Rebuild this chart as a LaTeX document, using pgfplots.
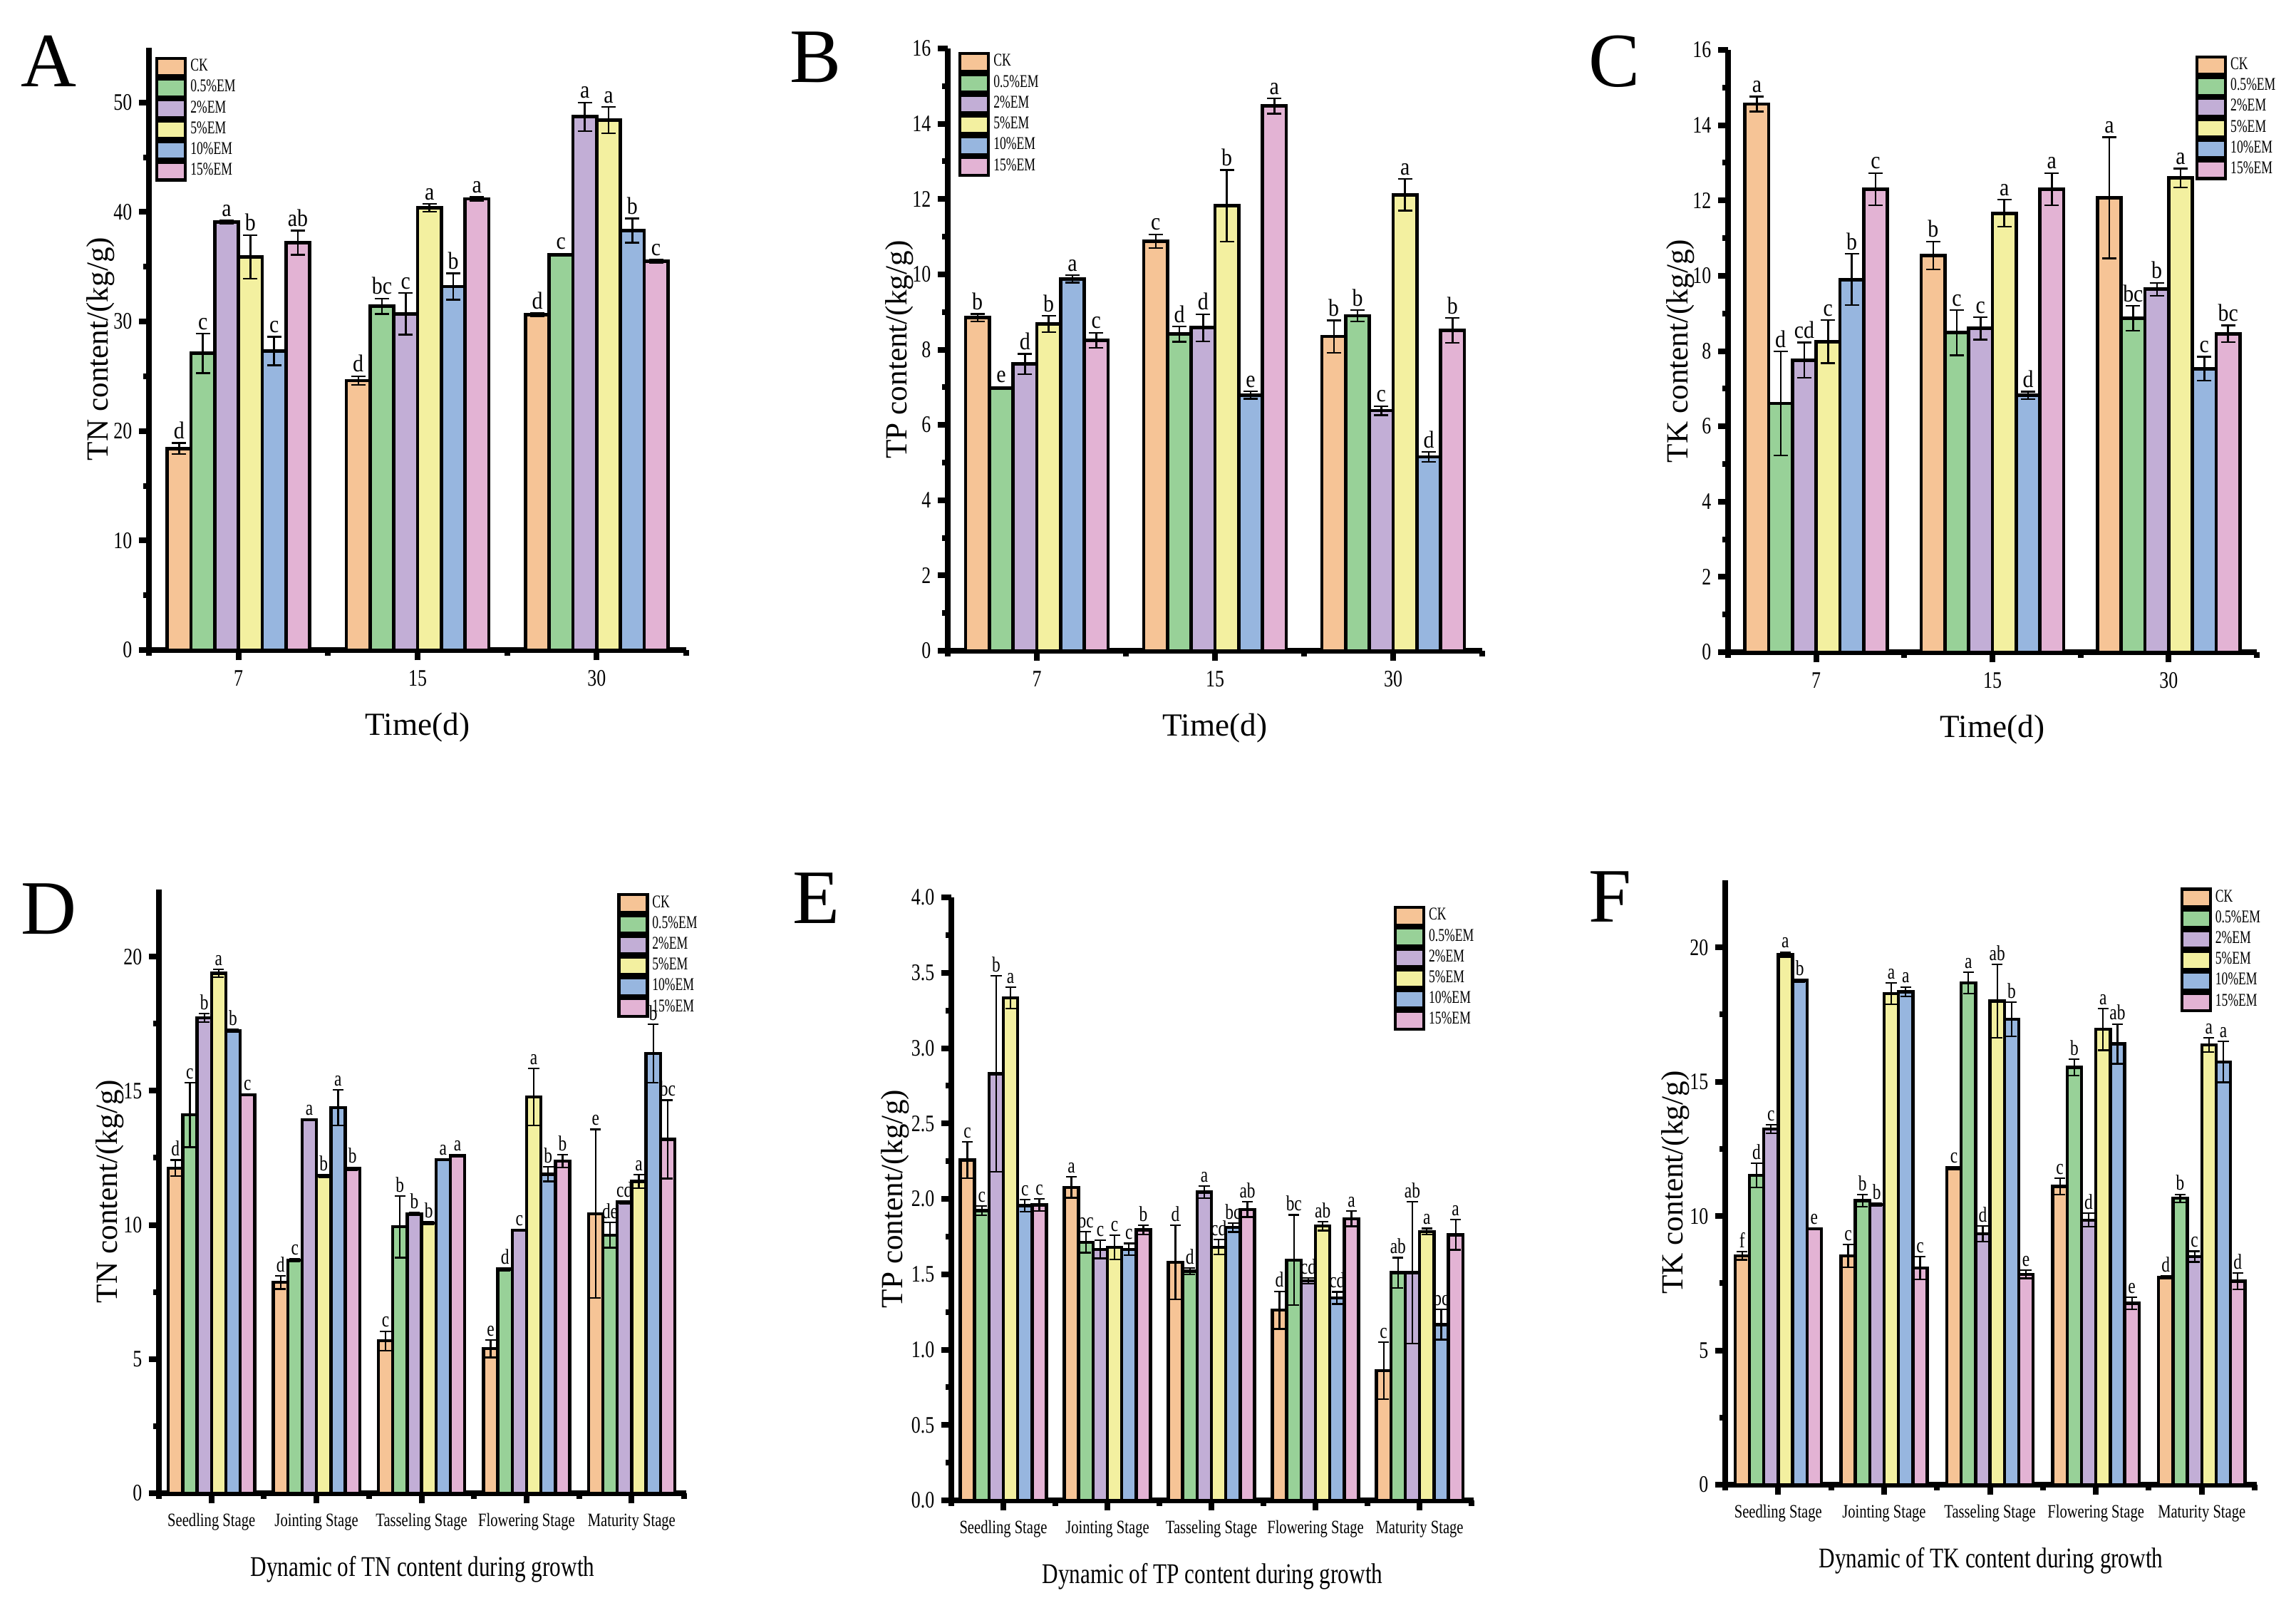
\documentclass[border=0pt]{standalone}
\usepackage{fontspec}
\usepackage{pgfplots}
\usepackage{pgfplotstable}
\pgfplotsset{compat=1.18}
\setmainfont{Liberation Serif}
\newfontfamily\cnd[FakeStretch=0.78]{Liberation Serif}
\newfontfamily\cndb[FakeStretch=0.88]{Liberation Serif}
\newfontfamily\cndl[FakeStretch=0.7]{Liberation Serif}

\definecolor{c0}{HTML}{F6C496}
\definecolor{c1}{HTML}{98D198}
\definecolor{c2}{HTML}{C2AED6}
\definecolor{c3}{HTML}{F3F0A0}
\definecolor{c4}{HTML}{97B6DF}
\definecolor{c5}{HTML}{E3B3D4}

% x, then for each treatment: value, error, letter
\pgfplotstableread{
x y0 e0 l0 y1 e1 l1 y2 e2 l2 y3 e3 l3 y4 e4 l4 y5 e5 l5
0 18.4 0.5 d 27.1 1.8 c 39.1 0.15 a 35.9 2.0 b 27.3 1.3 c 37.2 1.1 ab
1 24.6 0.4 d 31.4 0.7 bc 30.7 1.9 c 40.4 0.35 a 33.2 1.2 b 41.2 0.2 a
2 30.6 0.15 d 36.1 0.1 c 48.7 1.3 a 48.4 1.2 a 38.3 1.1 b 35.5 0.15 c
}\tabA
\pgfplotstableread{
x y0 e0 l0 y1 e1 l1 y2 e2 l2 y3 e3 l3 y4 e4 l4 y5 e5 l5
0 8.85 0.1 b 6.98 0.03 e 7.62 0.27 d 8.68 0.22 b 9.88 0.1 a 8.25 0.2 c
1 10.88 0.18 c 8.41 0.2 d 8.58 0.36 d 11.82 0.95 b 6.79 0.1 e 14.47 0.2 a
2 8.35 0.43 b 8.9 0.15 b 6.38 0.12 c 12.11 0.42 a 5.15 0.13 d 8.51 0.33 b
}\tabB
\pgfplotstableread{
x y0 e0 l0 y1 e1 l1 y2 e2 l2 y3 e3 l3 y4 e4 l4 y5 e5 l5
0 14.56 0.2 a 6.61 1.38 d 7.76 0.47 cd 8.25 0.57 c 9.9 0.68 b 12.3 0.43 c
1 10.54 0.37 b 8.49 0.6 c 8.6 0.3 c 11.66 0.36 a 6.82 0.1 d 12.3 0.43 a
2 12.07 1.61 a 8.87 0.33 bc 9.64 0.17 b 12.6 0.25 a 7.53 0.32 c 8.46 0.22 bc
}\tabC
\pgfplotstableread{
x y0 e0 l0 y1 e1 l1 y2 e2 l2 y3 e3 l3 y4 e4 l4 y5 e5 l5
0 12.12 0.3 d 14.1 1.2 c 17.72 0.15 b 19.38 0.15 a 17.24 0.05 b 14.85 0.03 c
1 7.86 0.25 d 8.68 0.05 c 13.92 0.03 a 11.83 0.05 b 14.37 0.66 a 12.1 0.05 b
2 5.68 0.36 c 9.93 1.15 b 10.42 0.05 b 10.07 0.05 b 12.43 0.03 a 12.58 0.03 a
3 5.39 0.33 e 8.35 0.05 d 9.8 0.03 c 14.77 1.07 a 11.89 0.27 b 12.38 0.23 b
4 10.42 3.14 e 9.62 0.47 de 10.85 0.05 cd 11.62 0.25 a 16.39 1.09 b 13.19 1.46 bc
}\tabD
\pgfplotstableread{
x y0 e0 l0 y1 e1 l1 y2 e2 l2 y3 e3 l3 y4 e4 l4 y5 e5 l5
0 2.258 0.12 c 1.923 0.03 c 2.83 0.65 b 3.333 0.07 a 1.955 0.04 c 1.96 0.04 c
1 2.077 0.07 a 1.713 0.07 bc 1.665 0.06 c 1.68 0.08 c 1.665 0.04 c 1.794 0.03 b
2 1.58 0.245 d 1.52 0.02 d 2.045 0.04 a 1.68 0.05 cd 1.81 0.03 bc 1.93 0.05 ab
3 1.262 0.125 d 1.594 0.3 bc 1.456 0.02 cd 1.82 0.03 ab 1.343 0.04 cd 1.868 0.05 a
4 0.86 0.19 c 1.51 0.1 ab 1.51 0.47 ab 1.784 0.02 a 1.166 0.1 bc 1.762 0.1 a
}\tabE
\pgfplotstableread{
x y0 e0 l0 y1 e1 l1 y2 e2 l2 y3 e3 l3 y4 e4 l4 y5 e5 l5
0 8.52 0.15 f 11.51 0.45 d 13.24 0.15 c 19.73 0.1 a 18.77 0.05 b 9.52 0.03 e
1 8.52 0.42 c 10.57 0.22 b 10.43 0.05 b 18.28 0.4 a 18.35 0.18 a 8.07 0.42 c
2 11.79 0.05 c 18.68 0.4 a 9.34 0.3 d 18.0 1.36 ab 17.33 0.63 b 7.83 0.15 e
3 11.1 0.3 c 15.54 0.3 b 9.85 0.25 d 16.95 0.78 a 16.41 0.74 ab 6.75 0.22 e
4 7.71 0.05 d 10.66 0.15 b 8.49 0.2 c 16.37 0.27 a 15.74 0.76 a 7.58 0.3 d
}\tabF

\newcommand\tickfont{\cnd\fontsize{8.3}{9}\selectfont}
\newcommand\stagefont{\cnd\fontsize{6.6}{7}\selectfont}
\newcommand\legfont{\cndl\fontsize{6.3}{7}\selectfont}

\pgfplotsset{
  ppu/.initial=1pt,
  panel/.style={
    scale only axis, axis lines=left, axis line style={line width=2pt, -},
    ymin=0, xmin=-0.5, clip=false,
    tick align=outside, major tick length=3.6pt, minor tick length=2pt,
    tick style={black, line width=2pt},
    minor y tick num=1,
    ybar=0pt,
    nodes near coords, point meta=explicit symbolic,
    nodes near coords style={anchor=south, inner sep=0.8pt,
      yshift={\errv*\pgfkeysvalueof{/pgfplots/ppu}}},
    /pgf/number format/assume math mode=true,
    yticklabel style={font=\tickfont, xshift=1.2pt},
    xticklabel style={font=\tickfont},
    every axis plot/.append style={draw=black},
    error bars/y dir=both, error bars/y explicit,
    legend cell align=left,
    legend image code/.code={\draw[##1, line width=1.1pt] (0pt,-3.1pt) rectangle (10pt,3.1pt);},
    legend style={draw=none, fill=none, anchor=north west, font=\legfont,
      row sep=0pt, inner sep=0pt, nodes={inner ysep=0.4pt, inner xsep=1.2pt}},
  },
  toprow/.style={panel, height=211.25pt, xmax=2.5,
    xtick={0,1,2}, xticklabels={7,15,30}, minor xtick={-0.5,0.5,1.5,2.5},
    bar width=8.33pt,
    every axis plot/.append style={line width=1.2pt},
    error bars/error bar style={line width=0.6pt, black},
    error bars/error mark options={rotate=90, mark size=2.5pt, line width=0.6pt, black},
    nodes near coords style={font=\cndb\fontsize{8.5}{9}\selectfont},
    xlabel={Time(d)},
    xlabel style={font=\fontsize{11.3}{13}\selectfont, at={(axis description cs:0.5,-0.128)}, anchor=center},
    ylabel style={font=\fontsize{10.8}{12}\selectfont, at={(axis description cs:-0.09,0.5)}, anchor=center},
  },
  botrow/.style={panel, xmax=4.52,
    xtick={0,1,2,3,4},
    xticklabels={Seedling Stage,Jointing Stage,Tasseling Stage,Flowering Stage,Maturity Stage},
    xticklabel style={font=\stagefont},
    minor xtick={-0.5,0.5,1.5,2.5,3.5,4.5},
    bar width=5.05pt,
    every axis plot/.append style={line width=1.1pt},
    error bars/error bar style={line width=0.55pt, black},
    error bars/error mark options={rotate=90, mark size=1.9pt, line width=0.55pt, black},
    nodes near coords style={font=\cnd\fontsize{7.5}{8}\selectfont},
    xlabel style={font=\cnd\fontsize{10}{12}\selectfont, at={(axis description cs:0.5,-0.126)}, anchor=center},
    ylabel style={font=\fontsize{10.8}{12}\selectfont, at={(axis description cs:-0.093,0.5)}, anchor=center},
  },
}

\newcommand{\serie}[2]{\addplot[fill=c#2, visualization depends on={\thisrow{e#2}\as\errv}]
  table[x=x, y=y#2, y error=e#2, meta=l#2] {#1};}
\newcommand{\allseries}[1]{\serie{#1}{0}\serie{#1}{1}\serie{#1}{2}\serie{#1}{3}\serie{#1}{4}\serie{#1}{5}
  \legend{CK,0.5\%EM,2\%EM,5\%EM,10\%EM,15\%EM}}

\begin{document}
\begin{tikzpicture}
\path[use as bounding box] (0,0) rectangle (805.5pt,-562pt);

\begin{axis}[toprow, at={(52.25pt,-228pt)}, anchor=south west, width=188.5pt,
  ymax=55, ytick={0,10,...,50}, ppu=3.841pt,
  ylabel={TN content/(kg/g)}, legend style={at={(0.011,0.986)}}]
\allseries{\tabA}
\end{axis}

\begin{axis}[toprow, at={(332.5pt,-228.25pt)}, anchor=south west, width=187.5pt,
  ymax=16, ytick={0,2,...,16}, ppu=13.203pt,
  ylabel={TP content/(kg/g)}, legend style={at={(0.019,0.995)}}]
\allseries{\tabB}
\end{axis}

\begin{axis}[toprow, at={(606.25pt,-228.75pt)}, anchor=south west, width=185.5pt,
  ymax=16, ytick={0,2,...,16}, ppu=13.203pt,
  ylabel={TK content/(kg/g)}, legend style={at={(0.883,0.992)}}]
\allseries{\tabC}
\end{axis}

\begin{axis}[botrow, at={(55.75pt,-523.75pt)}, anchor=south west, width=185pt, height=211.75pt,
  ymax=22.5, ytick={0,5,...,20}, ppu=9.411pt,
  xlabel={Dynamic of TN content during growth},
  ylabel={TN content/(kg/g)}, legend style={at={(0.868,0.995)}}]
\allseries{\tabD}
\end{axis}

\begin{axis}[botrow, at={(333.75pt,-526.25pt)}, anchor=south west, width=183.25pt, height=211.5pt,
  ymax=4, ytick={0,0.5,...,4}, ppu=52.875pt,
  yticklabel style={/pgf/number format/.cd, fixed, fixed zerofill, precision=1},
  xlabel={Dynamic of TP content during growth},
  ylabel={TP content/(kg/g)}, ylabel style={at={(axis description cs:-0.108,0.5)}},
  legend style={at={(0.846,0.987)}}]
\allseries{\tabE}
\end{axis}

\begin{axis}[botrow, at={(605.25pt,-520.75pt)}, anchor=south west, width=186.5pt, height=212pt,
  ymax=22.5, ytick={0,5,...,20}, ppu=9.422pt,
  xlabel={Dynamic of TK content during growth},
  ylabel={TK content/(kg/g)}, legend style={at={(0.855,0.989)}}]
\allseries{\tabF}
\end{axis}

\begin{scope}[every node/.style={font=\fontsize{27}{30}\selectfont}]
\node at (17pt,-21.5pt) {A};
\node at (286.25pt,-20pt) {B};
\node at (566.25pt,-21.5pt) {C};
\node at (17pt,-318.75pt) {D};
\node at (286.25pt,-315pt) {E};
\node at (565pt,-314.5pt) {F};
\end{scope}
\end{tikzpicture}
\end{document}
